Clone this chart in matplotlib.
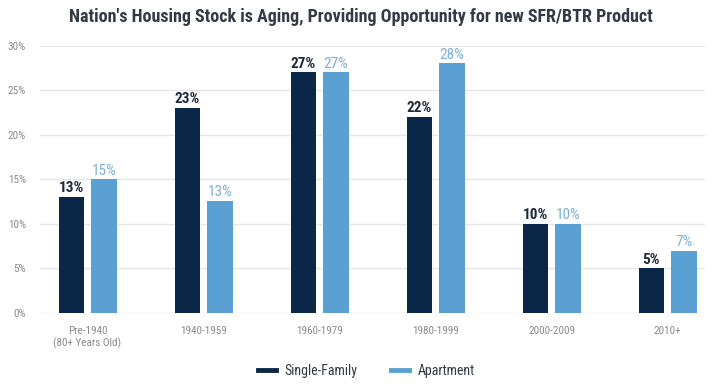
import numpy as np
import matplotlib.pyplot as plt
from matplotlib import font_manager
from matplotlib.lines import Line2D

categories = ["Pre-1940\n(80+ Years Old)", "1940-1959", "1960-1979", "1980-1999", "2000-2009", "2010+"]
single_family = [13, 23, 27, 22, 10, 5]
apartment = [15, 12.6, 27, 28, 10, 7]
yticks = [0, 5, 10, 15, 20, 25, 30]

dark = "#0b2748"
light = "#5aa0d2"

# pick a narrow font if one exists, otherwise Roboto
names = {f.name for f in font_manager.fontManager.ttflist}
narrow = None
for n in ["Liberation Sans Narrow", "Roboto Condensed", "Open Sans Condensed", "DejaVu Sans Condensed"]:
    if n in names:
        narrow = n
        break
if narrow:
    fam = [narrow, "DejaVu Sans"]
    title_size, lab_size = 13, 11
else:
    fam = ["Roboto", "DejaVu Sans"]
    title_size, lab_size = 10.5, 10

fig = plt.figure(figsize=(7.14, 3.86), dpi=100)
ax = fig.add_axes([0.056, 0.189, 0.931, 0.693])

x = np.arange(len(categories))
w = 0.22
off = 0.14
ax.bar(x - off, single_family, w, color=dark, zorder=3)
ax.bar(x + off, apartment, w, color=light, zorder=3)

for xi, v in zip(x, single_family):
    ax.text(xi - off, v + 0.2, f"{v:.0f}%", ha="center", va="bottom",
            fontsize=lab_size, fontweight="bold", color="#1b2a3c", family=fam)
for xi, v in zip(x, apartment):
    ax.text(xi + off, v + 0.2, f"{v:.0f}%", ha="center", va="bottom",
            fontsize=lab_size, color="#7db0d6", family=fam)

ax.set_xlim(-0.41, 5.32)
ax.set_ylim(0, 30)
ax.set_yticks(yticks)
ax.set_yticklabels([f"{t}%" for t in yticks], family=fam, fontsize=8, color="#8a8a8a")
ax.set_xticks(x)
ax.set_xticklabels(categories, family=fam, fontsize=8, color="#8a8a8a", linespacing=1.2)
ax.tick_params(length=0, pad=9)
ax.tick_params(axis="y", pad=10)
ax.grid(axis="y", color="#e6e6e6", linewidth=1, zorder=0)
for s in ax.spines.values():
    s.set_visible(False)

fig.text(0.505, 0.955, "Nation's Housing Stock is Aging, Providing Opportunity for new SFR/BTR Product",
         ha="center", va="center", fontsize=title_size, fontweight="bold", color="#333a45", family=fam)

handles = [Line2D([0], [0], color=dark, lw=3.5), Line2D([0], [0], color=light, lw=3.5)]
fig.legend(handles, ["Single-Family", "Apartment"], loc="center", bbox_to_anchor=(0.513, 0.04),
           ncol=2, frameon=False, prop={"family": fam, "size": 10}, handlelength=1.3,
           handletextpad=0.6, columnspacing=2.4, labelcolor="#333a45")

fig.savefig("out.png", dpi=100)
